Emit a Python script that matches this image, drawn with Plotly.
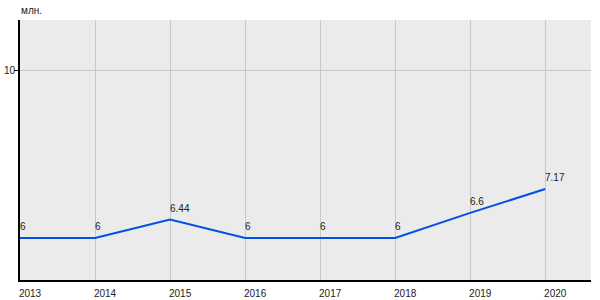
import plotly.graph_objects as go

years = [2013, 2014, 2015, 2016, 2017, 2018, 2019, 2020]
values = [6, 6, 6.44, 6, 6, 6, 6.6, 7.17]
labels = ["6", "6", "6.44", "6", "6", "6", "6.6", "7.17"]
unit = "млн."

fig = go.Figure()
fig.add_trace(go.Scatter(
    x=years, y=values, mode="lines",
    line=dict(color="#0050e6", width=2), hoverinfo="skip"))

annotations = [dict(x=x, y=y, text=t, xref="x", yref="y", xanchor="left", yanchor="bottom",
                    xshift=-2, yshift=4, showarrow=False,
                    font=dict(family="Liberation Sans, Arial", size=10, color="#222"))
               for x, y, t in zip(years, values, labels)]
annotations.append(dict(text=unit, xref="paper", yref="paper", x=0, y=1,
                        xanchor="left", yanchor="bottom", xshift=-1, yshift=2, showarrow=False,
                        font=dict(size=10, color="#222")))

fig.update_layout(
    width=600, height=300,
    margin=dict(l=20, r=9, t=20, b=20, autoexpand=False),
    paper_bgcolor="white", plot_bgcolor="#ebebeb",
    showlegend=False,
    font=dict(family="Liberation Sans, Arial", size=10, color="#222"),
    xaxis=dict(range=[2013, 2020.61], tickvals=years, ticktext=[str(y) for y in years],
               showgrid=True, gridcolor="#c8c8c8", gridwidth=1, automargin=False,
               showline=True, linecolor="black", linewidth=2, zeroline=False,
               ticks="", ticklabelshift=10, ticklabelstandoff=3,
               tickfont=dict(size=10, color="#222")),
    yaxis=dict(range=[5, 11.2], tickvals=[10], ticktext=["10"],
               showgrid=True, gridcolor="#c8c8c8", gridwidth=1, automargin=False,
               showline=True, linecolor="black", linewidth=2, zeroline=False,
               ticks="outside", ticklen=4, tickcolor="black", tickwidth=1,
               ticklabelstandoff=-3,
               tickfont=dict(size=10, color="#222")),
    annotations=annotations,
)

fig.write_html("out.html")
